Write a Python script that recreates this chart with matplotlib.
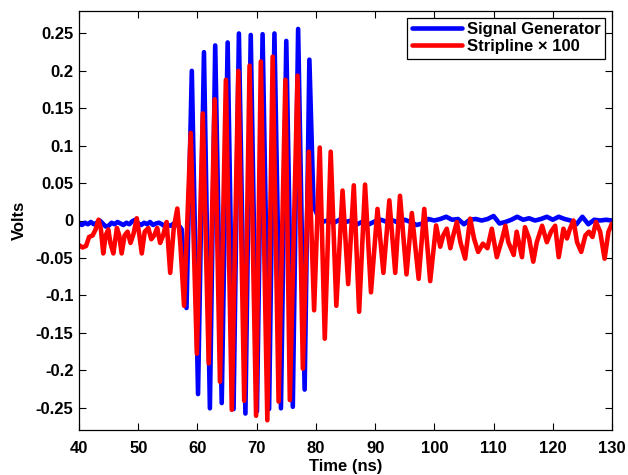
import matplotlib
matplotlib.use("Agg")
import matplotlib.pyplot as plt
from matplotlib.ticker import FuncFormatter

plt.rcParams['font.family'] = ['Liberation Sans', 'DejaVu Sans']
plt.rcParams['axes.unicode_minus'] = False

# ---------------- data ----------------
# Signal generator: baseline before burst
sg_pre_t = [40, 40.5, 41, 41.5, 42, 42.5, 43, 43.5, 44, 44.5, 45, 45.5, 46, 46.5,
            47, 47.5, 48, 48.5, 49, 49.5, 50, 50.5, 51, 51.5, 52, 52.5, 53, 53.5,
            54, 54.5, 55, 55.5, 56, 56.5, 57, 57.35]
sg_pre_v = [-0.004, -0.006, -0.003, -0.005, -0.002, -0.005, -0.003, 0.000, -0.004,
            -0.008, -0.007, -0.003, -0.005, -0.002, -0.004, -0.006, -0.003, -0.005,
            -0.001, 0.001, -0.004, -0.006, -0.003, -0.005, -0.002, -0.006, -0.004,
            -0.003, -0.005, -0.008, -0.006, -0.007, -0.004, -0.006, -0.008, -0.012]
# Signal generator: burst extrema
sg_burst_t = [58.15, 59.05, 60.1, 61.1, 62.1, 63.0, 64.1, 65.1, 66.1, 67.0, 68.1,
              69.0, 70.05, 71.0, 72.1, 73.0, 74.1, 75.0, 76.1, 77.0, 78.1, 78.9]
sg_burst_v = [-0.117, 0.200, -0.232, 0.225, -0.251, 0.234, -0.244, 0.238, -0.252,
              0.250, -0.258, 0.248, -0.255, 0.249, -0.252, 0.250, -0.251, 0.240,
              -0.249, 0.256, -0.226, 0.215]
# Signal generator: baseline after burst
sg_post_t = [79.6, 80.0, 80.5, 81, 82, 83, 84, 85, 86, 87, 88, 89, 90, 91, 92, 93,
             94, 95, 96, 97, 98, 99, 100, 101, 102, 103, 104, 105, 106, 107, 108,
             109, 110, 111, 112, 113, 114, 115, 116, 117, 118, 119, 120, 121, 122,
             123, 124, 125, 126, 127, 128, 129, 130]
sg_post_v = [0.020, 0.012, 0.002, -0.002, 0.000, -0.003, 0.001, -0.002, 0.000,
             -0.005, -0.001, -0.005, -0.001, 0.001, -0.002, 0.000, -0.003, 0.001,
             -0.002, -0.006, -0.004, 0.002, 0.000, 0.002, 0.005, 0.001, 0.002,
             -0.005, 0.001, 0.002, 0.000, 0.002, 0.006, -0.004, -0.002, 0.001,
             0.005, 0.001, 0.003, 0.000, 0.002, 0.005, 0.001, 0.005, 0.002, 0.000,
             -0.005, 0.005, -0.005, 0.001, 0.000, 0.001, 0.000]

# Stripline x 100
sl_t = [40.0, 40.6, 41.2, 41.7, 42.3, 42.8, 43.3, 43.7, 44.1, 44.5, 44.95, 45.3,
        45.8, 46.4, 46.8, 47.2, 47.7, 48.2, 48.7, 49.2, 49.75, 50.2, 50.6, 51.1,
        51.7, 52.2, 52.7, 53.2, 53.7, 54.2, 54.8, 55.4, 56.0, 56.6, 57.1, 57.74,
        58.86, 59.9, 60.9, 61.9, 62.9, 63.8, 64.8, 65.8, 66.9, 67.9, 68.8, 69.9,
        70.7, 71.8, 72.7, 73.7, 74.85, 75.6, 76.9, 77.8, 78.8, 79.7, 80.65, 81.5,
        82.5, 83.45, 84.5, 85.45, 86.4, 87.3, 88.3, 89.3, 90.4, 91.4, 92.4, 93.4,
        94.2, 95.3, 96.2, 97.35, 98.3, 99.3, 100.3, 101.0, 101.5, 102.1, 102.7,
        103.2, 103.8, 104.4, 105.2, 106.05, 106.7, 107.4, 108.2, 108.97, 109.7,
        110.55, 111.4, 112.0, 112.5, 113.4, 113.9, 114.8, 115.3, 116.0, 116.7,
        117.3, 118.2, 119.0, 119.7, 120.4, 121.0, 121.8, 122.4, 122.9, 123.5,
        124.1, 124.8, 125.5, 126.1, 126.7, 127.3, 128.0, 128.75, 129.4, 130.0]
sl_v = [-0.033, -0.036, -0.034, -0.022, -0.020, -0.012, 0.001, -0.012, -0.044,
        -0.020, -0.012, -0.030, -0.044, -0.010, -0.020, -0.044, -0.020, -0.015,
        -0.030, -0.018, 0.003, -0.020, -0.044, -0.015, -0.010, -0.025, -0.020,
        -0.010, -0.030, -0.020, -0.002, -0.070, -0.010, 0.016, -0.030, -0.114,
        0.117, -0.178, 0.143, -0.191, 0.162, -0.2155, 0.188, -0.253, 0.200,
        -0.241, 0.207, -0.261, 0.2125, -0.267, 0.219, -0.242, 0.188, -0.240,
        0.1935, -0.198, 0.092, -0.120, 0.0975, -0.158, 0.092, -0.114, 0.040,
        -0.085, 0.047, -0.122, 0.048, -0.096, 0.0155, -0.070, 0.027, -0.070,
        0.033, -0.072, 0.010, -0.078, 0.0155, -0.081, -0.0066, -0.035, -0.020,
        -0.011, -0.037, -0.020, -0.002, -0.029, -0.051, 0.0025, -0.024, -0.042,
        -0.031, -0.037, -0.011, -0.049, -0.026, -0.007, -0.029, -0.046, -0.015,
        -0.049, -0.009, -0.024, -0.055, -0.029, -0.007, -0.029, -0.015, -0.007,
        -0.049, -0.011, -0.024, -0.011, 0.000, -0.029, -0.042, -0.020, -0.015,
        -0.022, -0.002, -0.015, -0.051, -0.015, -0.004]

y_ticks = [-0.25, -0.2, -0.15, -0.1, -0.05, 0, 0.05, 0.1, 0.15, 0.2, 0.25]
x_ticks = [40, 50, 60, 70, 80, 90, 100, 110, 120, 130]

sg_t = sg_pre_t + sg_burst_t + sg_post_t
sg_v = sg_pre_v + sg_burst_v + sg_post_v

# ---------------- figure ----------------
fig = plt.figure(figsize=(6.28, 4.75), dpi=100)
ax = fig.add_axes([79/628, 45/475, 533/628, 419/475])

ax.plot(sg_t, sg_v, color='#0000ff', lw=3.3, solid_joinstyle='round',
        solid_capstyle='round', label='Signal Generator')
ax.plot(sl_t, sl_v, color='#ff0000', lw=3.3, solid_joinstyle='round',
        solid_capstyle='round', label='Stripline \u00d7 100')

ax.set_xlim(40, 130)
ax.set_ylim(-0.28, 0.28)
ax.set_xticks(x_ticks)
ax.set_yticks(y_ticks)
ax.yaxis.set_major_formatter(FuncFormatter(lambda v, p: ('%g' % round(v, 2))))
ax.tick_params(direction='in', top=True, right=True, length=5, width=0.8,
               labelsize=12)
ax.tick_params(axis='x', pad=8)
ax.tick_params(axis='y', pad=4)
for lab in ax.get_xticklabels() + ax.get_yticklabels():
    lab.set_fontweight('bold')
for s in ax.spines.values():
    s.set_linewidth(0.9)

ax.set_xlabel('Time (ns)', fontsize=12, fontweight='bold', labelpad=2)
ax.set_ylabel('Volts', fontsize=12, fontweight='bold', labelpad=6)

leg = ax.legend(loc='upper right', fancybox=False, framealpha=1,
                edgecolor='black', borderaxespad=0.4, handlelength=3.0,
                handletextpad=0.35, borderpad=0.25, labelspacing=0.15,
                prop={'size': 12, 'weight': 'bold'})
leg.get_frame().set_linewidth(0.9)

fig.savefig('out.png', dpi=100)
